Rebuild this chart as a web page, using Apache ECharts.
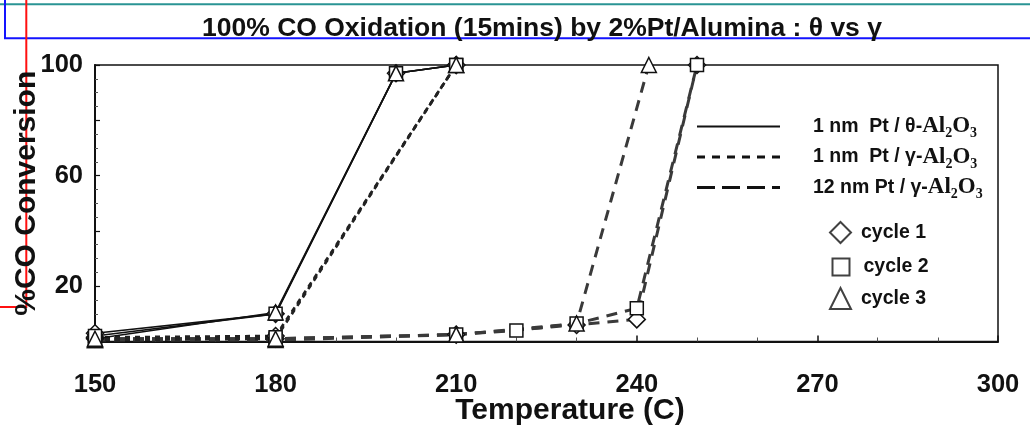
<!DOCTYPE html>
<html>
<head>
<meta charset="utf-8">
<script src="https://cdn.jsdelivr.net/npm/echarts@6/dist/echarts.min.js"></script>
<style>
  html, body { margin: 0; padding: 0; background: #ffffff; }
  #chart { width: 1030px; height: 430px; }
</style>
</head>
<body>
<div id="chart"></div>
<script>
// ---- text ----
const titleText = '100% CO Oxidation (15mins) by 2%Pt/Alumina : θ vs γ';
const xAxisName = 'Temperature (C)';
const yAxisName = '%CO Conversion';
const yLabelValues = [20, 60, 100];
const catalystNames = ['1 nm  Pt / θ-Al2O3', '1 nm  Pt / γ-Al2O3', '12 nm Pt / γ-Al2O3'];
const catalystLabels = ['1 nm  Pt / θ-', '1 nm  Pt / γ-', '12 nm Pt / γ-'];
const cycleNames = ['cycle 1', 'cycle 2', 'cycle 3'];

// ---- 1 nm Pt / θ-Al2O3 (temperature in C, conversion in %) ----
const thetaTemps = [150, 180, 200, 210];
const thetaCycle1 = [3, 10, 97, 100];
const thetaCycle2 = [2, 10, 97, 100];
const thetaCycle3 = [1, 10.5, 97, 100];

// ---- 1 nm Pt / γ-Al2O3 ----
const gamma1Temps = [150, 180, 210];
const gamma1Cycle1 = [1.5, 2, 100];
const gamma1Cycle2 = [1, 1.5, 100];
const gamma1Cycle3 = [0.5, 1, 100];

// ---- 12 nm Pt / γ-Al2O3 ----
const gamma12Cycle1Temps = [150, 180, 210, 230, 240, 250];
const gamma12Cycle1 = [1, 1, 2.5, 6, 8, 100];
const gamma12Cycle2Temps = [150, 180, 210, 220, 230, 240, 250];
const gamma12Cycle2 = [1, 1, 2.5, 4, 6.5, 12, 100];
const gamma12Cycle3Temps = [150, 180, 210, 230, 242];
const gamma12Cycle3 = [0.5, 0.5, 2.5, 6.5, 100];

// ---- styling ----
const INK = '#111111';
const SANS = 'Liberation Sans';
const SERIF = 'Liberation Serif';

const catalystLineStyles = [
  { color: '#111111', width: 1.6, type: 'solid' },
  { color: '#222222', width: 2.6, type: [5, 5] },
  { color: '#3a3a3a', width: 3, type: [11, 8] }
];
const cycleMarkers = [
  { symbol: 'diamond', size: 17 },
  { symbol: 'rect', size: 13 },
  { symbol: 'triangle', size: 15 }
];
// legend swatches: solid, short dash, long dash (83 x 3 px)
const catalystIcons = [
  'path://M0,0.5H83V2.5H0Z',
  'path://M0,0H8V3H0Z M15,0H23V3H15Z M30,0H38V3H30Z M45,0H53V3H45Z M60,0H68V3H60Z M75,0H83V3H75Z',
  'path://M0,0H18V3H0Z M25,0H43V3H25Z M50,0H68V3H50Z M75,0H83V3H75Z'
];

const runs = [
  { catalyst: 2, cycle: 0, temps: gamma12Cycle1Temps, values: gamma12Cycle1 },
  { catalyst: 2, cycle: 1, temps: gamma12Cycle2Temps, values: gamma12Cycle2 },
  { catalyst: 2, cycle: 2, temps: gamma12Cycle3Temps, values: gamma12Cycle3 },
  { catalyst: 1, cycle: 0, temps: gamma1Temps, values: gamma1Cycle1 },
  { catalyst: 1, cycle: 1, temps: gamma1Temps, values: gamma1Cycle2 },
  { catalyst: 1, cycle: 2, temps: gamma1Temps, values: gamma1Cycle3 },
  { catalyst: 0, cycle: 0, temps: thetaTemps, values: thetaCycle1 },
  { catalyst: 0, cycle: 1, temps: thetaTemps, values: thetaCycle2 },
  { catalyst: 0, cycle: 2, temps: thetaTemps, values: thetaCycle3 }
];

const markerStyle = { color: '#ffffff', borderColor: INK, borderWidth: 1.5 };

const series = runs.map(function (run) {
  const m = cycleMarkers[run.cycle];
  return {
    type: 'line',
    name: catalystNames[run.catalyst],
    data: run.temps.map(function (t, i) { return [t, run.values[i]]; }),
    symbol: m.symbol,
    symbolSize: m.size,
    showAllSymbol: true,
    lineStyle: catalystLineStyles[run.catalyst],
    itemStyle: markerStyle,
    emphasis: { disabled: true },
    z: 2 + (2 - run.catalyst)
  };
});

// marker-only entries for the cycle key
cycleNames.forEach(function (name, i) {
  series.push({
    type: 'scatter',
    name: name,
    data: [],
    symbol: cycleMarkers[i].symbol,
    itemStyle: markerStyle
  });
});

const legendText = {
  fontFamily: SANS, fontWeight: 'bold', fontSize: 19.5, color: INK
};

const catalystRich = {
  s: { fontFamily: SANS, fontWeight: 'bold', fontSize: 19.5, color: INK, lineHeight: 24 },
  al: { fontFamily: SERIF, fontWeight: 'bold', fontSize: 23, color: INK, lineHeight: 24 },
  sub: { fontFamily: SERIF, fontWeight: 'bold', fontSize: 14, color: INK, lineHeight: 14, padding: [12, 0, -2, 0] }
};

function cycleLegend(i, left, top, size) {
  return {
    data: [{ name: cycleNames[i], icon: cycleMarkers[i].symbol }],
    left: left, top: top, padding: 0,
    itemWidth: size, itemHeight: size,
    selectedMode: false,
    textStyle: Object.assign({ padding: [0, 0, 0, 26 - size] }, legendText)
  };
}

const option = {
  animation: false,
  backgroundColor: '#ffffff',
  title: {
    text: titleText,
    left: 202, top: 15, padding: 0,
    textStyle: { fontFamily: SANS, fontWeight: 'bold', fontSize: 26.5, color: INK }
  },
  grid: {
    left: 95, right: 32, top: 65, bottom: 88.5,
    outerBoundsMode: 'none',
    show: true, borderColor: INK, borderWidth: 1.5, backgroundColor: 'transparent'
  },
  xAxis: {
    type: 'value', min: 150, max: 300, interval: 30,
    axisLine: { lineStyle: { color: INK, width: 2 } },
    axisTick: { inside: true, length: 6, lineStyle: { color: INK, width: 1.5 } },
    minorTick: { show: true, splitNumber: 3, length: 4, lineStyle: { color: '#555', width: 1 } },
    splitLine: { show: false },
    axisLabel: { fontFamily: SANS, fontWeight: 'bold', fontSize: 25.5, color: INK, margin: 30 },
    name: xAxisName, nameLocation: 'middle', nameGap: 54.5, nameMoveOverlap: false,
    nameTextStyle: { fontFamily: SANS, fontWeight: 'bold', fontSize: 30, color: INK, padding: [0, 0, 0, 47] }
  },
  yAxis: {
    type: 'value', min: 0, max: 100, interval: 20,
    axisLine: { show: true, lineStyle: { color: INK, width: 2 } },
    axisTick: { show: true, inside: true, length: 5, lineStyle: { color: INK, width: 1.2 } },
    minorTick: { show: true, splitNumber: 4, length: 3, lineStyle: { color: '#555', width: 1 } },
    splitLine: { show: false },
    axisLabel: {
      fontFamily: SANS, fontWeight: 'bold', fontSize: 25.5, color: INK, margin: 12,
      formatter: function (v) { return yLabelValues.indexOf(v) >= 0 ? String(v) : ''; }
    },
    name: yAxisName, nameLocation: 'middle', nameGap: 53, nameMoveOverlap: false,
    nameTextStyle: { fontFamily: SANS, fontWeight: 'bold', fontSize: 30, color: INK, padding: [0, 0, 0, 20] }
  },
  legend: [
    {
      orient: 'vertical',
      data: catalystNames.map(function (name, i) {
        return { name: name, icon: catalystIcons[i], itemStyle: { color: INK, borderWidth: 0 } };
      }),
      left: 697, top: 114.5, padding: 0,
      itemWidth: 83, itemHeight: 3, itemGap: 4.5,
      selectedMode: false,
      formatter: function (name) {
        const i = catalystNames.indexOf(name);
        return '{s|' + catalystLabels[i] + '}{al|Al}{sub|2}{al|O}{sub|3}';
      },
      textStyle: Object.assign({ padding: [0, 0, 0, 28], rich: catalystRich }, legendText)
    },
    cycleLegend(0, 829, 221, 21),
    cycleLegend(1, 831.5, 257, 17),
    cycleLegend(2, 829, 287, 21)
  ],
  graphic: [
    { type: 'line', shape: { x1: 0, y1: 4.3, x2: 1030, y2: 4.3 }, style: { stroke: '#2a9494', lineWidth: 2 }, silent: true },
    { type: 'rect', shape: { x: 5, y: -5, width: 1040, height: 43.3 }, style: { fill: 'none', stroke: '#1414ff', lineWidth: 2 }, silent: true },
    { type: 'polyline', shape: { points: [[26.3, 0], [26.3, 307], [0, 307]] }, style: { fill: 'none', stroke: '#ff1010', lineWidth: 2 }, silent: true }
  ],
  series: series
};

const chart = echarts.init(document.getElementById('chart'));
chart.setOption(option);
</script>
</body>
</html>
